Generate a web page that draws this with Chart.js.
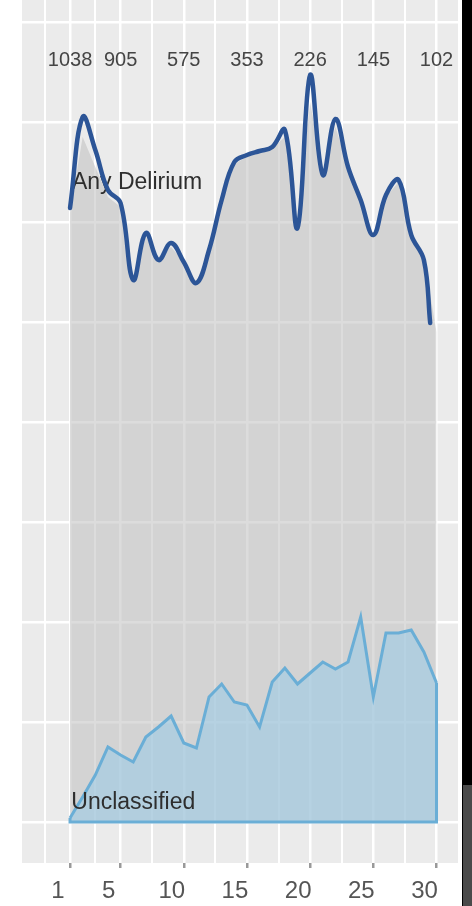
<!DOCTYPE html>
<html>
<head>
<meta charset="utf-8">
<script src="https://cdn.jsdelivr.net/npm/chart.js@4.4.1/dist/chart.umd.min.js"></script>
<style>
  html, body { margin: 0; padding: 0; background: #fff; }
  #wrap { position: relative; width: 472px; height: 906px; overflow: hidden; }
  #chart { filter: blur(0.6px); }
  #edge { position: absolute; right: 0; top: 0; width: 10px; height: 906px; background: #000; }
  #edge2 { position: absolute; right: 0; top: 785px; width: 9px; height: 121px; background: #4a4a4a; }
</style>
</head>
<body>
<div id="wrap">
  <canvas id="chart" width="472" height="906"></canvas>
  <div id="edge"></div>
  <div id="edge2"></div>
</div>
<script>
// 축 눈금 (일)
const dayTicks = [1, 5, 10, 15, 20, 25, 30];
const minorDays = [-1, 3, 7.5, 12.5, 17.5, 22.5, 27.5];
// 위쪽 숫자 (at risk)
const atRisk = [1038, 905, 575, 353, 226, 145, 102];

// 회색 영역 (Any Delirium)
const days = [1,2,3,4,5,6,7,8,9,10,11,12,13,14,15,16,17,18,19,20,21,22,23,24,25,26,27,28,29,30];
const anyDelirium = [61.0, 68.5, 65.5, 62.5, 61.5, 54.5, 58.5, 56.5, 57.5, 56.0, 54.0, 57.0, 62.0, 65.8, 66.5, 67.0, 67.4, 68.5, 60.0, 72.0, 64.8, 69.5, 65.5, 62.0, 58.8, 62.5, 64.0, 59.0, 56.5, 49.0];

// 파란 선 (손으로 그린 곡선)
const lineDays = [1,2,3,4,5,6,7,8,9,10,11,12,13,14,15,16,17,18,19,20,21,22,23,24,25,26,27,28,29,29.5];
const lineValues = [61.4, 70.5, 67.2, 63.2, 61.9, 54.2, 58.9, 56.2, 57.9, 56.0, 53.9, 57.2, 62.2, 66.0, 66.7, 67.1, 67.5, 69.2, 59.4, 74.7, 64.7, 70.3, 65.5, 62.2, 58.7, 62.7, 64.2, 58.7, 56.2, 49.9];

// 하늘색 영역 (Unclassified)
const unclassified = [0.4, 2.5, 4.7, 7.5, 6.7, 6.0, 8.5, 9.5, 10.6, 7.9, 7.4, 12.5, 13.8, 12.0, 11.7, 9.5, 14.0, 15.4, 13.8, 14.9, 16.0, 15.3, 16.0, 20.5, 12.5, 18.9, 18.9, 19.2, 17.0, 13.9];

const yGrid = [0, 10, 20, 30, 40, 50, 60, 70, 80];

const pts = (xs, ys) => xs.map((x, i) => ({ x: x, y: ys[i] }));
const lastDay = days[days.length - 1];
const outline = [
  { x: lastDay, y: unclassified[unclassified.length - 1] },
  { x: lastDay, y: 0 },
  { x: days[0], y: 0 },
  { x: days[0], y: unclassified[0] }
];

const FONT = '"Liberation Sans", Arial, Helvetica, sans-serif';

// 패널 배경
const panelBg = {
  id: 'panelBg',
  beforeDraw(chart) {
    const { ctx, chartArea: a } = chart;
    ctx.save();
    ctx.fillStyle = '#ebebeb';
    ctx.fillRect(a.left, a.top, a.right - a.left, a.bottom - a.top);
    ctx.restore();
  }
};

// 위쪽 숫자 + 시리즈 라벨
const textLabels = {
  id: 'textLabels',
  beforeDatasetsDraw(chart) {
    const { ctx, scales: { x, y } } = chart;
    ctx.save();
    ctx.font = '20px ' + FONT;
    ctx.fillStyle = '#454545';
    ctx.textAlign = 'center';
    ctx.textBaseline = 'middle';
    dayTicks.forEach((d, i) => ctx.fillText(String(atRisk[i]), x.getPixelForValue(d), y.getPixelForValue(76.2)));
    ctx.restore();
  },
  afterDatasetDraw(chart, args) {
    if (chart.data.datasets[args.index].label !== 'Unclassified') return;
    const { ctx, scales: { x, y } } = chart;
    ctx.save();
    ctx.font = '23px ' + FONT;
    ctx.fillStyle = '#2e2e2e';
    ctx.textAlign = 'left';
    ctx.textBaseline = 'middle';
    ctx.fillText('Any Delirium', x.getPixelForValue(1.15), y.getPixelForValue(63.9));
    ctx.fillText('Unclassified', x.getPixelForValue(1.1), y.getPixelForValue(1.9));
    ctx.restore();
  }
};

new Chart(document.getElementById('chart'), {
  type: 'line',
  data: {
    datasets: [
      {
        label: 'Blue line',
        data: pts(lineDays, lineValues),
        borderColor: '#2c5597',
        borderWidth: 4.5,
        tension: 0.4,
        pointRadius: 0,
        fill: false,
        borderCapStyle: 'round',
        borderJoinStyle: 'round',
        order: 0
      },
      {
        label: 'Outline',
        data: outline,
        borderColor: '#6aaed6',
        borderWidth: 3,
        pointRadius: 0,
        fill: false,
        tension: 0,
        order: 1
      },
      {
        label: 'Unclassified',
        data: pts(days, unclassified),
        borderColor: '#6aaed6',
        borderWidth: 3,
        backgroundColor: 'rgba(151, 203, 231, 0.55)',
        pointRadius: 0,
        fill: 'origin',
        tension: 0,
        order: 2
      },
      {
        label: 'Any Delirium',
        data: pts(days, anyDelirium),
        borderWidth: 0,
        borderColor: 'rgba(0,0,0,0)',
        backgroundColor: 'rgba(191, 191, 191, 0.55)',
        pointRadius: 0,
        fill: 'origin',
        tension: 0,
        order: 3
      }
    ]
  },
  options: {
    responsive: false,
    animation: false,
    devicePixelRatio: 1,
    layout: { padding: { top: 0, right: 14, left: 0, bottom: 0 } },
    plugins: {
      legend: { display: false },
      tooltip: { enabled: false }
    },
    scales: {
      x: {
        type: 'linear',
        min: -2.8,
        max: 31.7,
        afterBuildTicks: s => { s.ticks = minorDays.concat(dayTicks).sort((a, b) => a - b).map(v => ({ value: v })); },
        afterFit: s => { s.height = 43; },
        border: { display: false },
        grid: {
          color: '#fff',
          lineWidth: c => (c.tick && dayTicks.includes(c.tick.value)) ? 2.5 : 2,
          tickLength: 5,
          tickColor: c => (c.tick && dayTicks.includes(c.tick.value)) ? '#999' : 'rgba(0,0,0,0)'
        },
        ticks: {
          autoSkip: false,
          maxRotation: 0,
          padding: 9,
          labelOffset: -12,
          color: '#555',
          font: { family: FONT, size: 24 },
          callback: v => dayTicks.includes(v) ? String(v) : ''
        }
      },
      y: {
        type: 'linear',
        min: -4.1,
        max: 82.2,
        afterBuildTicks: s => { s.ticks = yGrid.map(v => ({ value: v })); },
        afterFit: s => { s.width = 22; },
        border: { display: false },
        grid: { color: '#fff', lineWidth: 2.5, drawTicks: false },
        ticks: { display: false }
      }
    }
  },
  plugins: [panelBg, textLabels]
});
</script>
</body>
</html>
